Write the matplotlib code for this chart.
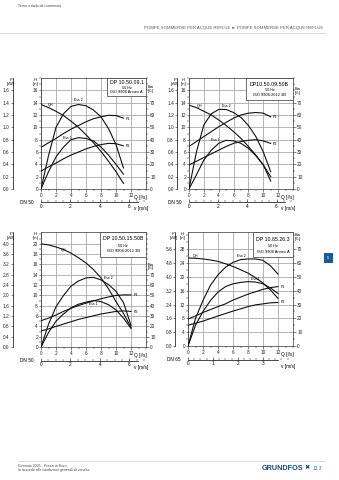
import numpy as np
import matplotlib
matplotlib.use('Agg')
import matplotlib.pyplot as plt
from matplotlib.ticker import MultipleLocator
from matplotlib.lines import Line2D

plt.rcParams['font.family'] = ['Liberation Sans', 'DejaVu Sans']

# ---------------- data ----------------
# Chart 1: DP 10.50.09.1
q1 = [0, 1, 2, 3, 4, 5, 6, 7, 8, 9, 10, 11]
qh1 = [13.7, 13.2, 12.6, 11.9, 11.0, 10.0, 8.8, 7.5, 6.1, 4.5, 2.8, 0.9]
eta1_1 = [0, 14, 26, 34, 40, 41.6, 41, 39, 34, 27.5, 20, 12]
eta2_1 = [0, 27, 50, 61, 67, 68.5, 67.5, 64, 58.5, 49, 36, 17]
p1_1 = [0.675, 0.75, 0.82, 0.90, 0.97, 1.03, 1.09, 1.14, 1.17, 1.195, 1.19, 1.15]
p2_1 = [0.29, 0.36, 0.42, 0.49, 0.55, 0.60, 0.65, 0.69, 0.72, 0.74, 0.735, 0.70]

# Chart 2: DP10.50.09.50B
q2 = [0, 1, 2, 3, 4, 5, 6, 7, 8, 9, 10, 11]
qh2 = [13.6, 13.2, 12.6, 12.0, 11.2, 10.3, 9.3, 8.2, 6.9, 5.5, 3.9, 1.3]
eta1_2 = [0, 11.5, 23.5, 31.5, 37, 39.5, 39, 37, 33, 27, 19.5, 10]
eta2_2 = [0, 30, 52, 61, 64.5, 64.5, 62, 58, 51.5, 42.5, 30, 14]
p1_2 = [0.69, 0.77, 0.85, 0.93, 1.01, 1.08, 1.15, 1.20, 1.23, 1.24, 1.23, 1.17]
p2_2 = [0.39, 0.45, 0.51, 0.57, 0.63, 0.69, 0.74, 0.77, 0.79, 0.80, 0.78, 0.74]

# Chart 3: DP 10.50.15.50B
q3 = [0, 1, 2, 3, 4, 5, 6, 7, 8, 9, 10, 11, 12]
qh3 = [20.0, 19.8, 19.4, 18.9, 18.2, 17.3, 16.3, 15.0, 13.4, 11.3, 8.8, 6.5, 3.8]
eta1_3 = [0, 14, 25, 32, 38, 41.5, 43.5, 45, 44, 41, 36, 28, 18]
eta2_3 = [0, 22, 39, 50, 59, 64, 67, 67.5, 65, 60.5, 54, 43, 21]
p1_3 = [1.02, 1.12, 1.24, 1.38, 1.50, 1.61, 1.70, 1.79, 1.87, 1.94, 2.00, 2.02, 2.02]
p2_3 = [0.62, 0.70, 0.80, 0.89, 0.98, 1.07, 1.14, 1.21, 1.28, 1.33, 1.38, 1.40, 1.38]

# Chart 4: DP 10.65.26.3
q4 = [0, 1, 2, 3, 4, 5, 6, 7, 8, 9, 10, 11, 12]
qh4 = [25.5, 25.4, 25.2, 24.9, 24.5, 23.8, 23.0, 22.1, 21.1, 19.8, 18.2, 16.2, 13.8]
eta1_4 = [0, 15, 25, 33, 39, 43, 45, 46, 46.6, 46.3, 45, 42, 38]
eta2_4 = [0, 20, 33, 44, 51.5, 57, 60.5, 62.5, 63, 63, 62, 58, 52]
p1_4 = [1.56, 1.74, 1.94, 2.11, 2.28, 2.44, 2.66, 2.83, 3.00, 3.14, 3.28, 3.38, 3.44]
p2_4 = [1.20, 1.32, 1.44, 1.59, 1.74, 1.88, 2.02, 2.15, 2.28, 2.38, 2.44, 2.50, 2.52]

q_ticks = [0, 2, 4, 6, 8, 10, 12]

W, HP = 339, 480
fig = plt.figure(figsize=(W / 100, HP / 100), dpi=100)

TFS = 3.4
GRID = '#a8a8a8'


def rect(x0, y0, x1, y1):
    return [x0 / W, 1 - y1 / HP, (x1 - x0) / W, (y1 - y0) / HP]


def style_ticks(a, axis, length=2, pad=1):
    a.tick_params(axis=axis, which='major', length=length, width=0.4, labelsize=TFS, pad=pad, colors='#222222')
    a.tick_params(axis=axis, which='minor', length=1.2, width=0.3)


def chart(r, q, qh, e1, e2, p1, p2, hmax, hticks, hminor, kp, ke, pticks,
          pfmt, poff, dn, dnd, vticks, vminor, vend, title, iso, box, lab, etay):
    ax = fig.add_axes(r)
    ax.set_xlim(0, 14)
    ax.set_ylim(0, hmax)
    ax.set_xticks(q_ticks)
    ax.set_xticklabels([str(t) for t in q_ticks])
    ax.xaxis.set_minor_locator(MultipleLocator(1))
    ax.set_yticks(hticks)
    ax.yaxis.set_minor_locator(MultipleLocator(hminor))
    ax.grid(True, which='major', color=GRID, lw=0.6)
    ax.set_axisbelow(True)
    style_ticks(ax, 'x')
    style_ticks(ax, 'y', length=1.6, pad=0.6)
    for s in ax.spines.values():
        s.set_linewidth(0.5)
        s.set_color('#333333')
    ax.plot(q, qh, color='#111111', lw=0.8)

    ae = ax.twinx()
    ae.set_ylim(0, hmax * ke)
    ae.set_yticks(range(0, 71, 10))
    ae.yaxis.set_minor_locator(MultipleLocator(5))
    style_ticks(ae, 'y')
    ae.spines[:].set_visible(False)
    ae.plot(q, e1, color='#111111', lw=0.8)
    ae.plot(q, e2, color='#111111', lw=0.8)

    ap = ax.twinx()
    ap.set_ylim(0, hmax * kp)
    ap.spines[:].set_visible(False)
    ap.spines['left'].set_visible(True)
    ap.spines['left'].set_position(('axes', -poff))
    ap.spines['left'].set_linewidth(0.5)
    ap.yaxis.tick_left()
    ap.set_yticks(pticks)
    ap.set_yticklabels([pfmt % t for t in pticks])
    style_ticks(ap, 'y', length=1.6, pad=0.6)
    ap.plot(q, p1, color='#111111', lw=0.8)
    ap.plot(q, p2, color='#111111', lw=0.8)

    # axis titles
    tr = ax.transAxes
    ax.text(-poff - 0.02, 1.0, 'P\n[kW]', transform=tr, fontsize=2.9, ha='center', va='top', linespacing=1.0)
    ax.text(-0.055, 1.0, 'H\n[m]', transform=tr, fontsize=2.9, ha='center', va='top', linespacing=1.0)
    ax.text(1.045, etay, 'Eta\n[%]', transform=tr, fontsize=2.9, ha='center', va='center', linespacing=1.0)
    ax.text(13.3 / 14, -0.05, 'Q [l/s]', transform=tr, fontsize=TFS, ha='center', va='top')

    # velocity axis
    c = 1e-3 / (np.pi * (dnd / 2) ** 2)
    sec = ax.secondary_xaxis(-0.12, functions=(lambda x, c=c: x * c, lambda v, c=c: v / c))
    sec.set_xticks(vticks)
    sec.xaxis.set_minor_locator(MultipleLocator(vminor))
    sec.tick_params(which='major', length=2, width=0.4, labelsize=TFS, pad=1, direction='in')
    sec.tick_params(which='minor', length=1.2, width=0.3, direction='in')
    sec.spines['bottom'].set_linewidth(0.5)
    sec.spines['bottom'].set_bounds(0, vend)
    ax.text(-0.07, -0.12, dn, transform=tr, fontsize=TFS, ha='right', va='center')
    ax.text(13.3 / 14, -0.155, 'v [m/s]', transform=tr, fontsize=TFS, ha='center', va='top')

    # curve labels
    lfs = 2.7
    ax.text(*lab['QH'], 'QH', fontsize=lfs, ha='left', va='center')
    ax.text(*lab['Eta 2'], 'Eta 2', fontsize=lfs, ha='center', va='center')
    ax.text(*lab['Eta 1'], 'Eta 1', fontsize=lfs, ha='center', va='center')
    ax.text(*lab['P1'], 'P1', fontsize=lfs, ha='left', va='center')
    ax.text(*lab['P2'], 'P2', fontsize=lfs, ha='left', va='center')

    # title box
    bx0, by0 = box
    ax.add_patch(plt.Rectangle((bx0, by0), 1 - bx0, 1 - by0, transform=tr,
                               facecolor='white', edgecolor='#333333', lw=0.5, zorder=5))
    cx = (bx0 + 1) / 2
    hb = 1 - by0
    ax.text(cx, by0 + hb * 0.72, title, transform=tr, fontsize=3.8, ha='center', va='center', zorder=6)
    ax.text(cx, by0 + hb * 0.45, '50 Hz', transform=tr, fontsize=2.7, ha='center', va='center', zorder=6)
    ax.text(cx, by0 + hb * 0.22, iso, transform=tr, fontsize=2.9, ha='center', va='center', zorder=6)
    return ax


chart(rect(41, 78, 146, 189), q1, qh1, eta1_1, eta2_1, p1_1, p2_1,
      hmax=18, hticks=range(0, 17, 2), hminor=1, kp=0.1, ke=5,
      pticks=[0, .2, .4, .6, .8, 1.0, 1.2, 1.4, 1.6], pfmt='%.1f', poff=0.27,
      dn='DN 50', dnd=0.05, vticks=[0, 2, 4, 6], vminor=0.5, vend=6.6,
      title='DP 10.50.09.1', iso='ISO 9906 Annex A', box=(0.63, 0.84),
      lab={'QH': (0.9, 13.6), 'Eta 2': (5.0, 14.4), 'Eta 1': (3.5, 8.3),
           'P1': (11.3, 11.3), 'P2': (11.3, 7.0)}, etay=0.9)

chart(rect(189, 78, 293, 189), q2, qh2, eta1_2, eta2_2, p1_2, p2_2,
      hmax=18, hticks=range(0, 17, 2), hminor=1, kp=0.1, ke=5,
      pticks=[0, .2, .4, .6, .8, 1.0, 1.2, 1.4, 1.6], pfmt='%.1f', poff=0.115,
      dn='DN 50', dnd=0.05, vticks=[0, 2, 4, 6], vminor=0.5, vend=6.6,
      title='DP10.50.09.50B', iso='ISO 9906:2012 3B', box=(0.55, 0.8),
      lab={'QH': (1.0, 13.5), 'Eta 2': (5.0, 13.5), 'Eta 1': (3.6, 7.9),
           'P1': (11.3, 11.7), 'P2': (11.3, 7.3)}, etay=0.88)

chart(rect(41, 232, 146, 347), q3, qh3, eta1_3, eta2_3, p1_3, p2_3,
      hmax=22.3, hticks=range(0, 21, 2), hminor=1, kp=0.2, ke=5,
      pticks=[0, .4, .8, 1.2, 1.6, 2.0, 2.4, 2.8, 3.2, 3.6, 4.0], pfmt='%.1f', poff=0.27,
      dn='DN 50', dnd=0.05, vticks=[0, 2, 4, 6], vminor=0.5, vend=6.6,
      title='DP 10.50.15.50B', iso='ISO 9906:2012 3B', box=(0.565, 0.785),
      lab={'QH': (2.7, 18.9), 'Eta 2': (9.0, 13.3), 'Eta 1': (7.0, 8.3),
           'P1': (12.3, 10.1), 'P2': (12.3, 6.8)}, etay=0.7)

chart(rect(188, 232, 293, 346), q4, qh4, eta1_4, eta2_4, p1_4, p2_4,
      hmax=33, hticks=range(0, 29, 4), hminor=2, kp=0.2, ke=2.5,
      pticks=[0, .8, 1.6, 2.4, 3.2, 4.0, 4.8, 5.6], pfmt='%.1f', poff=0.12,
      dn='DN 65', dnd=0.065, vticks=[0, 1, 2, 3], vminor=0.25, vend=3.6,
      title='DP 10.65.26.3', iso='ISO 9906 Annex A', box=(0.62, 0.78),
      lab={'QH': (0.7, 26.0), 'Eta 2': (7.1, 26.1), 'Eta 1': (9.0, 19.4),
           'P1': (12.3, 17.1), 'P2': (12.3, 12.6)}, etay=0.96)

# ---------------- page furniture ----------------
fig.text(18 / W, 1 - 6 / HP, 'Tema o titolo del contenuto', fontsize=2.6, color='#444444', va='center')
fig.text(323 / W, 1 - 28 / HP,
         'POMPE SOMMERSE PER ACQUE REFLUE \u25BA POMPE SOMMERSE PER ACQUE REFLUE',
         fontsize=3.1, color='#555555', ha='right', va='center')
fig.add_artist(Line2D([0, 325 / W], [1 - 32.5 / HP] * 2, color='#cccccc', lw=0.5))
fig.add_artist(Line2D([18 / W, 325 / W], [1 - 460.5 / HP] * 2, color='#cccccc', lw=0.5))
fig.add_artist(plt.Rectangle((324 / W, 1 - 263 / HP), 9 / W, 10 / HP, transform=fig.transFigure,
                             facecolor='#1b5a96', edgecolor='none'))
fig.text(328.5 / W, 1 - 258 / HP, '11', fontsize=2.2, color='white', ha='center', va='center')
fig.text(18 / W, 1 - 466 / HP, 'Gennaio 2025 - Prezzi in Euro', fontsize=2.6, color='#444444', va='center')
fig.text(18 / W, 1 - 470.5 / HP, 'In accordo alle condizioni generali di vendita', fontsize=2.6,
         color='#444444', va='center')
fig.text(303 / W, 1 - 468.5 / HP, 'GRUNDFOS', fontsize=5.2, color='#11497a', ha='right', va='center',
         fontweight='bold')
fig.text(304.5 / W, 1 - 468 / HP, '\u2716', fontsize=4.5, color='#11497a', ha='left', va='center',
         family=['DejaVu Sans'])
fig.text(322 / W, 1 - 468.5 / HP, '13.3', fontsize=3.4, color='#2a6fb5', ha='right', va='center')

fig.savefig('out.png', dpi=100)
